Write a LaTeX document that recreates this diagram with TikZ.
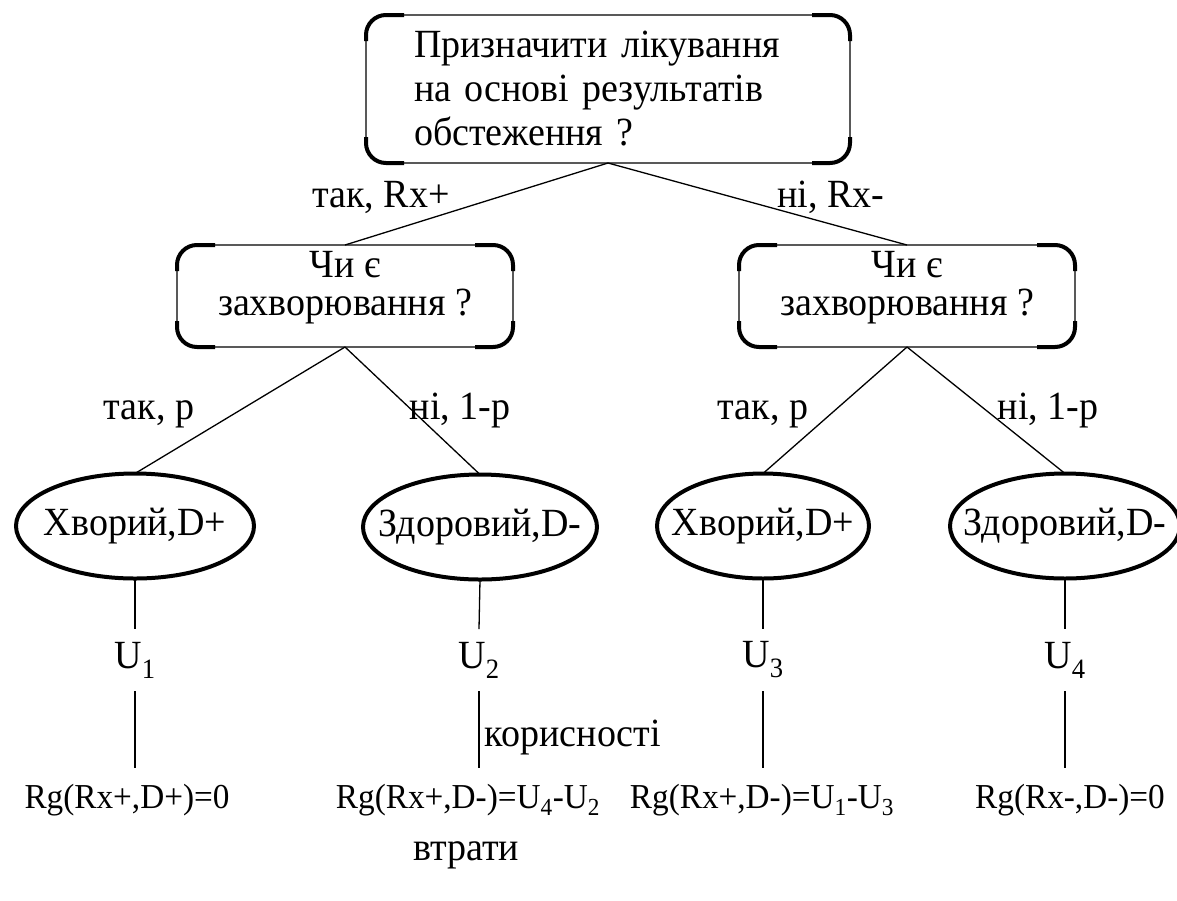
\documentclass[tikz,border=0pt]{standalone}
\usepackage{fontspec}
\setmainfont{Liberation Serif}[FakeStretch=0.95]
\usetikzlibrary{shapes.geometric}
\tikzset{
  every node/.style={font=\fontsize{40pt}{44pt}\selectfont, inner sep=0pt, outer sep=0pt},
  rbox/.style={draw, line width=1.4pt, rounded corners=20pt, minimum width=336pt, minimum height=102pt},
  boxtext/.style={align=center, font=\fontsize{40pt}{38pt}\selectfont},
  ell/.style={draw, ellipse, line width=4pt, minimum height=105pt},
  conn/.style={line width=1.3pt},
  rg/.style={font=\fontsize{35pt}{40pt}\selectfont},
  ulab/.style={minimum height=62pt},
}
\newcommand\boxcorners[1]{%
  \begin{scope}
    \clip ([shift={(-8,-8)}]#1.north west) rectangle ([shift={(38,26)}]#1.north west)
          ([shift={(8,-8)}]#1.north east) rectangle ([shift={(-38,26)}]#1.north east)
          ([shift={(-8,8)}]#1.south west) rectangle ([shift={(38,-26)}]#1.south west)
          ([shift={(8,8)}]#1.south east) rectangle ([shift={(-38,-26)}]#1.south east);
    \draw[line width=4pt, rounded corners=20pt] (#1.north west) rectangle (#1.south east);
  \end{scope}}
\begin{document}
\begin{tikzpicture}[x=1pt,y=-1pt]
\useasboundingbox (0,0) rectangle (1177,900);
% decision boxes
\node[rbox, minimum width=484pt, minimum height=148pt, text width=388pt, align=left] (top) at (608,89) {Призначити лікування\\на основі результатів\\обстеження ?};
\node[rbox, label={[boxtext, yshift=8pt]center:{Чи є\\захворювання ?}}] (lb) at (345,296) {};
\node[rbox, label={[boxtext, yshift=8pt]center:{Чи є\\захворювання ?}}] (rb) at (907,296) {};
\boxcorners{top}
\boxcorners{lb}
\boxcorners{rb}
% outcome ellipses
\node[ell, minimum width=238pt, label={center:{Хворий,D+}}] (e1) at (135,526) {};
\node[ell, minimum width=234pt, label={center:{Здоровий,D-}}] (e2) at (480,527) {};
\node[ell, minimum width=212pt, label={center:{Хворий,D+}}] (e3) at (763,526) {};
\node[ell, minimum width=230pt, label={center:{Здоровий,D-}}] (e4) at (1065,526) {};
% connectors
\draw[conn] (top.south) -- (lb.north);
\draw[conn] (top.south) -- (rb.north);
\draw[conn] (lb.south) -- (e1.north);
\draw[conn] (lb.south) -- (e2.north);
\draw[conn] (rb.south) -- (e3.north);
\draw[conn] (rb.south) -- (e4.north);
% branch labels
\node[anchor=base] (l1) at (381,207) {так, Rx+};
\node[anchor=base] (l2) at (831,207) {ні, Rx-};
\node[anchor=base] (l3) at (149,419) {так, p};
\node[anchor=base] (l4) at (460,419) {ні, 1-p};
\node[anchor=base] (l5) at (763,419) {так, p};
\node[anchor=base] (l6) at (1048,419) {ні, 1-p};
% utilities
\node[ulab] (u1) at (135,660) {U\textsubscript{1}};
\node[ulab] (u2) at (479,660) {U\textsubscript{2}};
\node[ulab] (u3) at (763,660) {U\textsubscript{3}};
\node[ulab] (u4) at (1065,660) {U\textsubscript{4}};
\coordinate (c1) at (135,768);
\coordinate (c2) at (479,768);
\coordinate (c3) at (763,768);
\coordinate (c4) at (1065,768);
\draw[conn] (e1.south) -- (u1.north);
\draw[conn] (e2.south) -- (u2.north);
\draw[conn] (e3.south) -- (u3.north);
\draw[conn] (e4.south) -- (u4.north);
\draw[conn] (u1.south) -- (c1);
\draw[conn] (u2.south) -- (c2);
\draw[conn] (u3.south) -- (c3);
\draw[conn] (u4.south) -- (c4);
% regrets
\node[rg] (r1) at (127,800) {Rg(Rx+,D+)=0};
\node[rg] (r2) at (468,800) {Rg(Rx+,D-)=U\textsubscript{4}-U\textsubscript{2}};
\node[rg] (r3) at (762,800) {Rg(Rx+,D-)=U\textsubscript{1}-U\textsubscript{3}};
\node[rg] (r4) at (1070,800) {Rg(Rx-,D-)=0};
\node (k) at (573,738) {корисності};
\node[anchor=base] (v) at (466,860) {втрати};
\end{tikzpicture}
\end{document}
